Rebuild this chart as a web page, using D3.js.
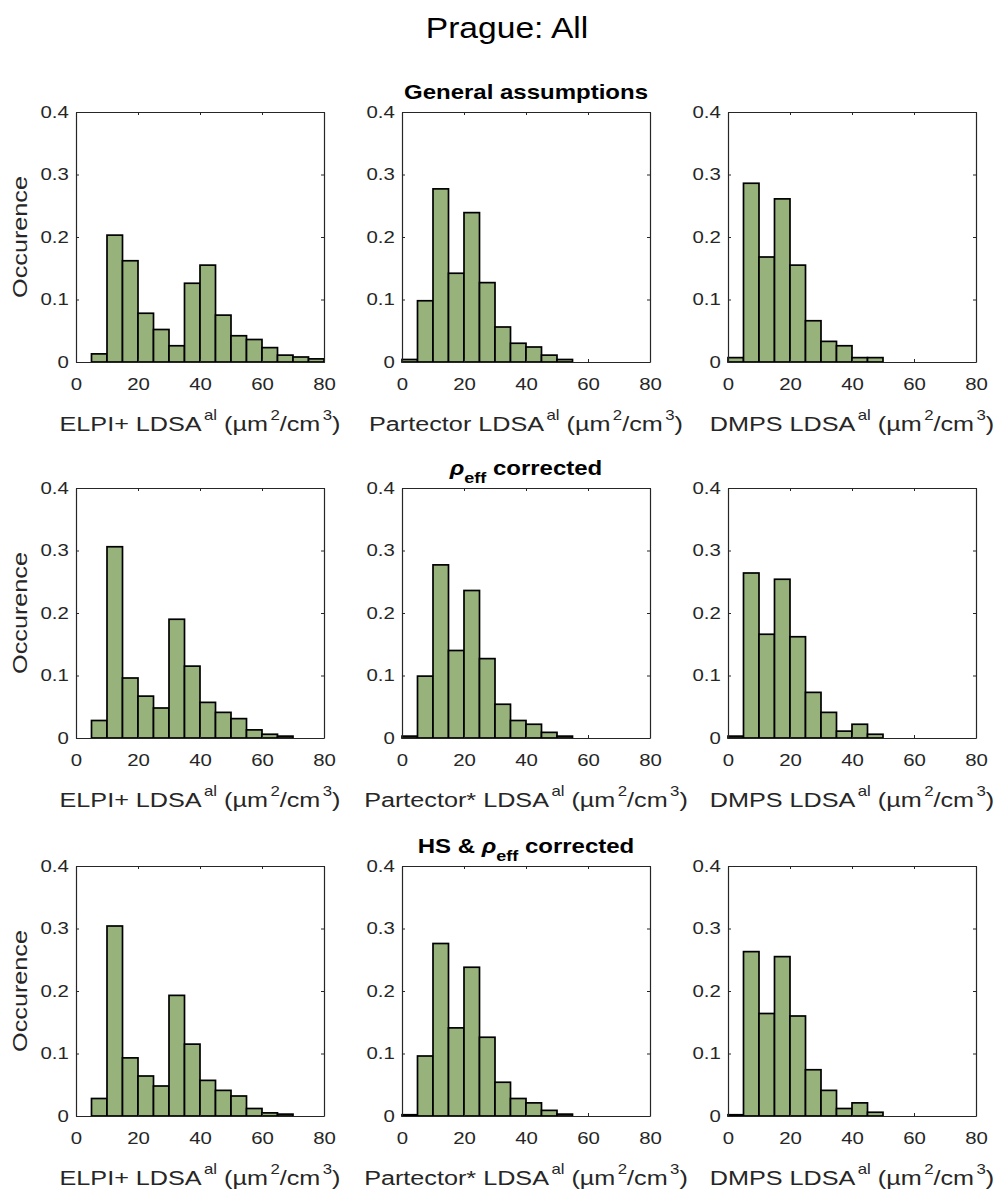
<!DOCTYPE html>
<html>
<head>
<meta charset="utf-8">
<script src="https://cdn.jsdelivr.net/npm/d3@7"></script>
<style>
  body { margin: 0; background: #fff; }
  svg { display: block; }
</style>
</head>
<body>
<div id="chart"></div>
<script>
'use strict'

// bin edges of the histograms (µm2/cm3)
const binEdges = [0, 5, 10, 15, 20, 25, 30, 35, 40, 45, 50, 55, 60, 65, 70, 75, 80]

// occurence per bin, one array per panel
const elpiGeneral = [0, 0.013, 0.203, 0.162, 0.078, 0.052, 0.026, 0.126, 0.155, 0.075, 0.042, 0.036, 0.023, 0.011, 0.008, 0.005]
const partectorGeneral = [0.004, 0.098, 0.277, 0.142, 0.239, 0.127, 0.056, 0.030, 0.024, 0.011, 0.004, 0, 0, 0, 0, 0]
const dmpsGeneral = [0.007, 0.286, 0.168, 0.261, 0.155, 0.066, 0.033, 0.026, 0.007, 0.007, 0, 0, 0, 0, 0, 0]

const elpiRho = [0, 0.028, 0.306, 0.096, 0.067, 0.048, 0.190, 0.115, 0.057, 0.041, 0.031, 0.013, 0.006, 0.003, 0, 0]
const partectorRho = [0.003, 0.099, 0.277, 0.140, 0.236, 0.127, 0.054, 0.028, 0.022, 0.009, 0.003, 0, 0, 0, 0, 0]
const dmpsRho = [0.003, 0.264, 0.166, 0.254, 0.162, 0.073, 0.041, 0.011, 0.022, 0.006, 0, 0, 0, 0, 0, 0]

const elpiHs = [0, 0.028, 0.304, 0.093, 0.064, 0.048, 0.193, 0.115, 0.057, 0.041, 0.032, 0.012, 0.005, 0.003, 0, 0]
const partectorHs = [0.002, 0.096, 0.276, 0.141, 0.238, 0.126, 0.054, 0.028, 0.021, 0.009, 0.003, 0, 0, 0, 0, 0]
const dmpsHs = [0.002, 0.263, 0.164, 0.255, 0.160, 0.074, 0.041, 0.012, 0.021, 0.006, 0, 0, 0, 0, 0, 0]

const xTicks = [0, 20, 40, 60, 80]
const yTicks = [0, 0.1, 0.2, 0.3, 0.4]

const instruments = ['ELPI+', 'Partector', 'DMPS']
const rowTitles = [
  [{ t: 'General assumptions' }],
  [{ t: 'ρ', italic: true }, { t: 'eff', size: 15, shift: 8 }, { t: ' corrected' }],
  [{ t: 'HS & ' }, { t: 'ρ', italic: true }, { t: 'eff', size: 15, shift: 8 }, { t: ' corrected' }]
]
const rows = [
  { series: [elpiGeneral, partectorGeneral, dmpsGeneral], star: false },
  { series: [elpiRho, partectorRho, dmpsRho], star: true },
  { series: [elpiHs, partectorHs, dmpsHs], star: true }
]

// layout
const W = 999
const H = 1191
const colLeft = [76, 402, 728]
const rowTop = [112, 488, 866]
const plotW = 248
const plotH = 250
const STRETCH = 1.2
const FONT = "'Liberation Sans', Arial, Helvetica, sans-serif"
const ink = '#262626'
const barFill = '#97b37b'

const svg = d3.select('#chart').append('svg')
  .attr('width', W)
  .attr('height', H)
  .style('font-family', FONT)

// text with sub/superscript parts, stretched horizontally like the original
function richText (sel, x, y, parts, opts) {
  const o = opts || {}
  const txt = sel.append('text')
    .attr('transform', 'translate(' + x + ',' + y + ')' +
      (o.rotate ? ' rotate(' + o.rotate + ')' : '') +
      ' scale(' + (o.sx || STRETCH) + ',1)')
    .attr('text-anchor', o.anchor || 'middle')
    .attr('fill', o.color || ink)
    .style('font-size', o.size + 'px')
    .style('font-weight', o.weight || 'normal')
  let cur = 0
  parts.forEach(p => {
    const ts = txt.append('tspan').text(p.t)
    const off = p.shift ? (p.sup ? -p.shift : p.shift) : 0
    ts.attr('dy', off - cur)
    if (p.dx) ts.attr('dx', p.dx)
    cur = off
    if (p.size) ts.style('font-size', p.size + 'px')
    if (p.italic) ts.style('font-style', 'italic')
  })
  return txt
}

const x = d3.scaleLinear().domain([0, 80]).range([0, plotW])
const y = d3.scaleLinear().domain([0, 0.4]).range([plotH, 0])

// main title
richText(svg, 507, 38, [{ t: 'Prague: All' }], { size: 30, sx: 1.12, color: '#000' })

rows.forEach((row, r) => {
  // row title above the middle panel
  richText(svg, colLeft[1] + plotW / 2, rowTop[r] - 13, rowTitles[r],
    { size: 20, weight: 'bold', color: '#000' })

  row.series.forEach((vals, c) => {
    const g = svg.append('g')
      .attr('transform', 'translate(' + colLeft[c] + ',' + rowTop[r] + ')')

    // bars
    const bins = vals.map((v, i) => ({ x0: binEdges[i], x1: binEdges[i + 1], v: v }))
      .filter(d => d.v > 0)
    g.selectAll('rect.bar')
      .data(bins)
      .join('rect')
      .attr('class', 'bar')
      .attr('x', d => x(d.x0))
      .attr('width', d => x(d.x1) - x(d.x0))
      .attr('y', d => y(d.v))
      .attr('height', d => y(0) - y(d.v))
      .attr('fill', barFill)
      .attr('stroke', '#000')
      .attr('stroke-width', 1.7)

    // axes box with inner ticks
    const axes = [
      { ax: d3.axisBottom(x).tickValues(xTicks).tickPadding(16), tr: 'translate(0,' + plotH + ')' },
      { ax: d3.axisLeft(y).tickValues(yTicks).tickPadding(6)
        .tickFormat(d => d === 0 ? '0' : d3.format('.1f')(d)), tr: null },
      { ax: d3.axisTop(x).tickValues(xTicks).tickFormat(''), tr: null },
      { ax: d3.axisRight(y).tickValues(yTicks).tickFormat(''), tr: 'translate(' + plotW + ',0)' }
    ]
    axes.forEach(a => {
      const ag = g.append('g')
        .attr('color', ink)
        .call(a.ax.tickSizeInner(-3).tickSizeOuter(0))
      if (a.tr) ag.attr('transform', a.tr)
      ag.select('.domain').attr('stroke-width', 1.2)
      ag.selectAll('.tick line').attr('stroke-width', 1)
      ag.selectAll('text')
        .style('font-family', FONT)
        .style('font-size', '17px')
        .attr('fill', ink)
        .attr('transform', 'scale(' + STRETCH + ',1)')
    })

    // x label
    const name = instruments[c] + (c === 1 && row.star ? '*' : '')
    richText(g, plotW / 2, plotH + 69, [
      { t: name + ' LDSA' },
      { t: 'al', size: 14, sup: true, shift: 11, dx: 2 },
      { t: ' (µm' },
      { t: '2', size: 14, sup: true, shift: 11, dx: 2 },
      { t: '/cm' },
      { t: '3', size: 14, sup: true, shift: 11, dx: 2 },
      { t: ')' }
    ], { size: 21 })

    // y label on the left column
    if (c === 0) {
      richText(g, 27 - colLeft[0], plotH / 2, [{ t: 'Occurence' }],
        { size: 21, rotate: -90 })
    }
  })
})
</script>
</body>
</html>
